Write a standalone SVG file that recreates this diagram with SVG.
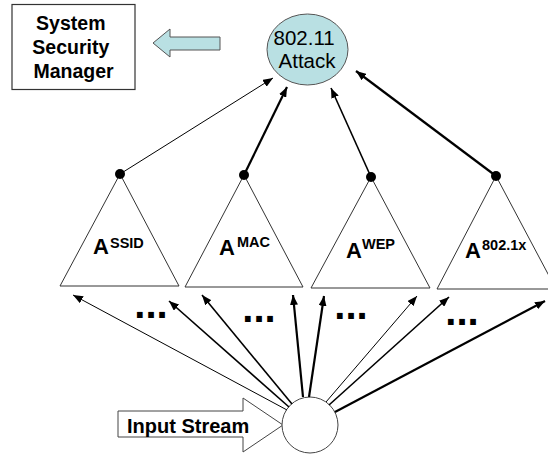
<svg xmlns="http://www.w3.org/2000/svg" width="548" height="455" viewBox="0 0 548 455">
  <style>
    .box { fill: #ffffff; stroke: #333333; stroke-width: 1.2; }
    .tri { fill: #ffffff; stroke: #333333; stroke-width: 1; }
    .blue { fill: #b9e0e3; stroke: #555555; stroke-width: 1; }
    .bold { font-family: "Liberation Sans", Arial, sans-serif; font-weight: bold; fill: #000000; }
    .plain { font-family: "Liberation Sans", Arial, sans-serif; fill: #000000; }
    .sup { font-size: 14.5px; }
    .edge { stroke: #000000; fill: none; marker-end: url(#head); }
    .w1 { stroke-width: 1; }
    .w15 { stroke-width: 1.6; }
    .w2 { stroke-width: 2.2; }
  </style>
  <defs>
    <marker id="head" viewBox="0 0 10 8" refX="10" refY="4" markerWidth="10" markerHeight="8" markerUnits="userSpaceOnUse" orient="auto">
      <path d="M0,0 L10,4 L0,8 Z" fill="#000000"/>
    </marker>
  </defs>

  <rect width="548" height="455" fill="#ffffff"/>

  <!-- manager box -->
  <g id="security-manager">
    <rect class="box" x="12" y="4.5" width="123" height="85"/>
    <text class="bold" font-size="19.5" text-anchor="middle">
      <tspan x="73.5" y="30">System</tspan>
      <tspan x="73.5" y="54">Security</tspan>
      <tspan x="73.5" y="78">Manager</tspan>
    </text>
  </g>

  <!-- report arrow pointing to the manager -->
  <g id="report-arrow">
    <path class="blue" d="M153,43 L170,29 L170,37 L220,37 L220,50 L170,50 L170,57 Z"/>
  </g>

  <!-- top-level attack node -->
  <g id="attack">
    <ellipse class="blue" cx="307.5" cy="49.5" rx="40.5" ry="35.5"/>
    <text class="plain" font-size="20.5" text-anchor="middle">
      <tspan x="307" y="45">802.11</tspan>
      <tspan x="307" y="68">Attack</tspan>
    </text>
  </g>

  <!-- sub-detector trees -->
  <g id="tree-ssid">
    <path class="tri" d="M120,174 L179,286 L60,286 Z"/>
    <circle cx="120" cy="174" r="5" fill="#000000"/>
    <text class="bold"><tspan x="93" y="254" font-size="22">A</tspan><tspan class="sup" x="110" y="248">SSID</tspan></text>
  </g>
  <g id="tree-mac">
    <path class="tri" d="M244,175 L303,287 L185,287 Z"/>
    <circle cx="244" cy="175" r="5" fill="#000000"/>
    <text class="bold"><tspan x="219" y="255" font-size="22">A</tspan><tspan class="sup" x="237" y="247">MAC</tspan></text>
  </g>
  <g id="tree-wep">
    <path class="tri" d="M371,177 L430,288 L311,288 Z"/>
    <circle cx="371" cy="177" r="5" fill="#000000"/>
    <text class="bold"><tspan x="346" y="258" font-size="22">A</tspan><tspan class="sup" x="362" y="249">WEP</tspan></text>
  </g>
  <g id="tree-8021x">
    <path class="tri" d="M496,176 L556,289 L437,289 Z"/>
    <circle cx="496" cy="176" r="5" fill="#000000"/>
    <text class="bold"><tspan x="465" y="258" font-size="22">A</tspan><tspan class="sup" x="482" y="250">802.1x</tspan></text>
  </g>

  <!-- elided inputs between fan arrows -->
  <g id="ellipses" class="bold" font-size="40" text-anchor="middle">
    <text x="151" y="318">...</text>
    <text x="259" y="322">...</text>
    <text x="351" y="319">...</text>
    <text x="462" y="325">...</text>
  </g>

  <!-- input source -->
  <g id="input">
    <path d="M118,411 L243,411 L243,398 L283,425 L243,452 L243,437 L118,437 Z" fill="#ffffff" stroke="#444444" stroke-width="1"/>
    <text class="bold" x="127" y="433" font-size="20">Input Stream</text>
    <circle cx="310" cy="425" r="28" fill="#ffffff" stroke="#444444" stroke-width="1"/>
  </g>

  <g id="connectors">
    <!-- tree roots to attack node -->
    <line class="edge w1" x1="120" y1="174" x2="273" y2="78"/>
    <line class="edge w2" x1="244" y1="175" x2="287" y2="87"/>
    <line class="edge w15" x1="371" y1="177" x2="331" y2="88"/>
    <line class="edge w2" x1="496" y1="176" x2="356" y2="71"/>
    <!-- input fan-out to tree leaves -->
    <line class="edge w1" x1="287" y1="410" x2="73" y2="295"/>
    <line class="edge w15" x1="289" y1="407" x2="169" y2="301"/>
    <line class="edge w15" x1="292" y1="404" x2="202" y2="295"/>
    <line class="edge w2" x1="303" y1="397" x2="293" y2="295"/>
    <line class="edge w2" x1="309" y1="397" x2="324" y2="296"/>
    <line class="edge w1" x1="326" y1="402" x2="417" y2="296"/>
    <line class="edge w15" x1="329" y1="405" x2="449" y2="297"/>
    <line class="edge w2" x1="335" y1="412" x2="545" y2="301"/>
  </g>
</svg>
